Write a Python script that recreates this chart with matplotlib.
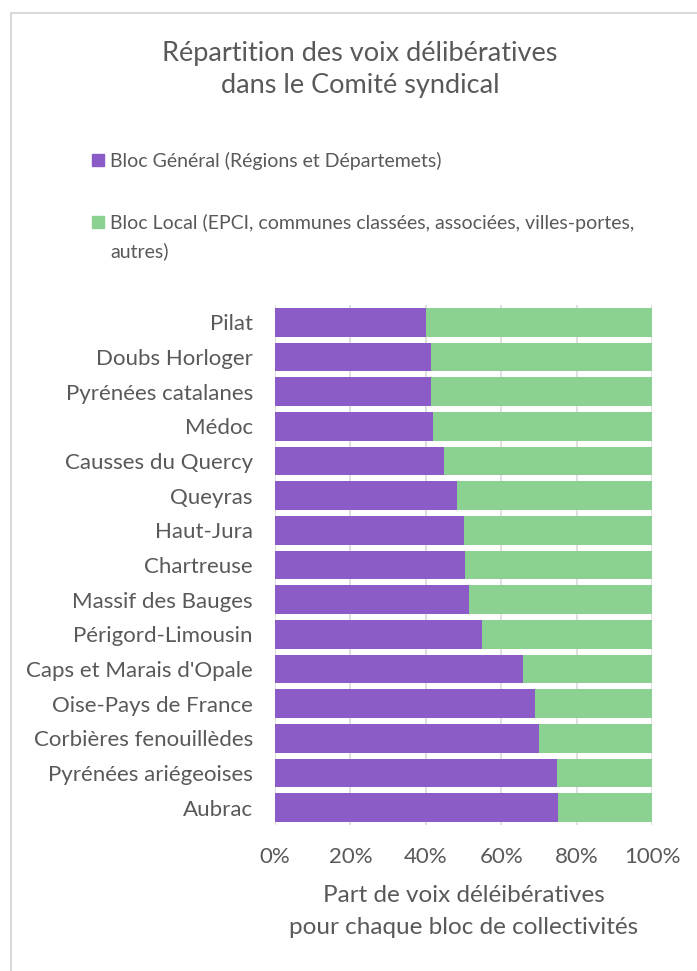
import matplotlib.pyplot as plt
from matplotlib.patches import Rectangle

# Parcs, du haut vers le bas
parcs = ["Pilat", "Doubs Horloger", "Pyrénées catalanes", "Médoc", "Causses du Quercy",
         "Queyras", "Haut-Jura", "Chartreuse", "Massif des Bauges", "Périgord-Limousin",
         "Caps et Marais d'Opale", "Oise-Pays de France", "Corbières fenouillèdes",
         "Pyrénées ariégeoises", "Aubrac"]
bloc_general = [40, 41.4, 41.5, 41.9, 44.8, 48.4, 50, 50.4, 51.5, 54.9,
                65.9, 69, 70.1, 74.8, 75]
bloc_local = [100 - v for v in bloc_general]

violet = "#8b5cc7"
vert = "#8bd192"
gris = "#595959"

plt.rcParams['font.family'] = ['Lato', 'DejaVu Sans']

W, H = 697, 971
fig = plt.figure(figsize=(W / 100, H / 100), dpi=100)
ax = fig.add_axes([275 / W, 1 - 825 / H, 377 / W, 520 / H])

# cadre du graphique
fig.patches.append(Rectangle((11 / W, -0.05), 1.0, 1 - 13 / H + 0.05,
                             transform=fig.transFigure, fill=False,
                             edgecolor="#d9d9d9", linewidth=1.5))

y = list(range(len(parcs)))
ax.barh(y, bloc_general, height=0.83, color=violet, zorder=3)
ax.barh(y, bloc_local, left=bloc_general, height=0.83, color=vert, zorder=3)

ax.set_xlim(0, 100)
ax.set_ylim(len(parcs) - 0.5, -0.5)
ax.set_yticks(y)
ax.set_yticklabels(parcs, fontsize=16, color=gris)
ax.set_xticks([0, 20, 40, 60, 80, 100])
ax.set_xticklabels(["0%", "20%", "40%", "60%", "80%", "100%"], fontsize=16, color=gris)
ax.tick_params(axis="y", length=0, pad=16)
ax.tick_params(axis="x", length=0, pad=16)
ax.grid(axis="x", color="#d9d9d9", linewidth=1.2, zorder=0)
for s in ax.spines.values():
    s.set_visible(False)

ax.set_xlabel("Part de voix déléibératives\npour chaque bloc de collectivités",
              fontsize=17.5, color=gris, labelpad=13, linespacing=1.65)

fig.text(360 / W, 1 - 69 / H, "Répartition des voix délibératives\ndans le Comité syndical",
         ha="center", va="center", fontsize=19.5, color=gris, linespacing=1.35)

# légende (carré aligné sur la première ligne du libellé)
legende = [(violet, "Bloc Général (Régions et Départemets)", 160),
           (vert, "Bloc Local (EPCI, communes classées, associées, villes-portes,\nautres)", 222)]
for couleur, texte, ypix in legende:
    fig.patches.append(Rectangle((92 / W, 1 - (ypix + 6) / H), 12 / W, 12 / H,
                                 transform=fig.transFigure, color=couleur))
    fig.text(110 / W, 1 - (ypix - 8) / H, texte, ha="left", va="top",
             fontsize=14, color=gris, linespacing=1.65)

fig.savefig("out.png", dpi=100)
